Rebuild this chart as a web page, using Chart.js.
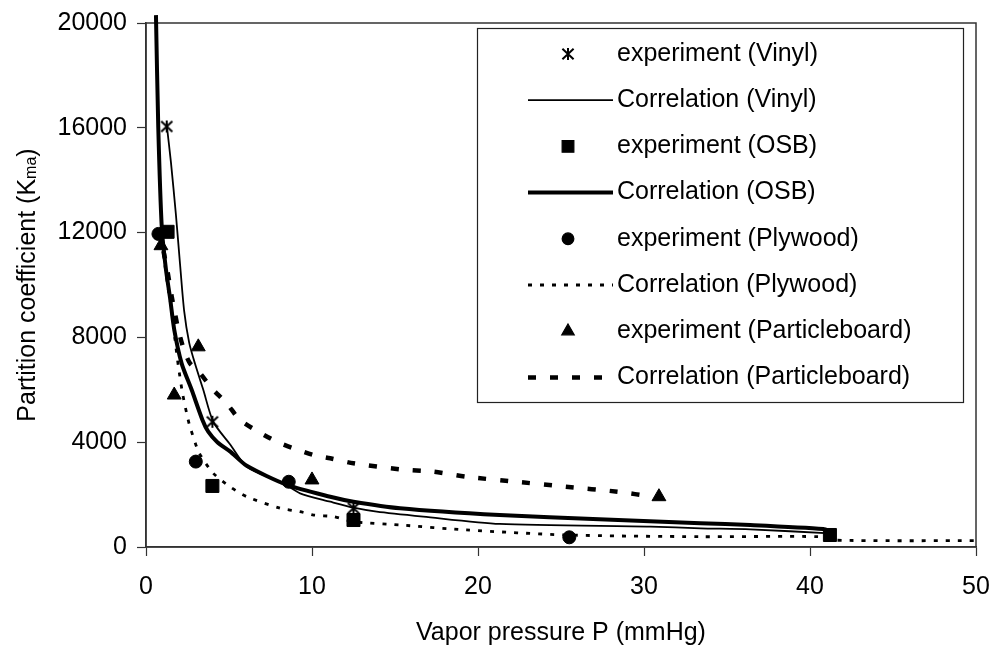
<!DOCTYPE html>
<html><head><meta charset="utf-8">
<script src="https://cdn.jsdelivr.net/npm/chart.js@4/dist/chart.umd.min.js"></script>
<style>html,body{margin:0;padding:0;background:#fff}#wrap{width:996px;height:652px;position:relative}</style>
</head><body><div id="wrap"><canvas id="c" width="996" height="652"></canvas></div>
<script>
// ---- axis ticks ----
const X_TICKS = [0, 10, 20, 30, 40, 50];
const Y_TICKS = [0, 4000, 8000, 12000, 16000, 20000];

// ---- experiments ----
const vinylExpP = [1.25, 4.0, 12.5, 41.2];
const vinylExpK = [16050, 4780, 1480, 480];
const osbExpP = [1.3, 4.0, 12.5, 41.2];
const osbExpK = [12030, 2330, 1030, 458];
const plyExpP = [0.75, 3.0, 8.6, 25.5];
const plyExpK = [11950, 3260, 2490, 370];
const pbExpP = [0.9, 1.7, 3.15, 10.0, 30.9];
const pbExpK = [11500, 5800, 7640, 2560, 1920];

// ---- correlations ----
const vinylCorP = [1.25, 1.5, 1.8, 2.05, 2.3, 2.6, 2.95, 3.45, 4.05, 5.06, 6.07, 8.27, 9.28, 11.1, 12.5, 13.9, 16.7, 21.3, 30.4, 33.4, 36.4, 41.2];
const vinylCorK = [16100, 14700, 12700, 10800, 9000, 7800, 7000, 6000, 4780, 3920, 3065, 2430, 2050, 1730, 1500, 1350, 1160, 880, 776, 714, 675, 520];
const osbCorP = [0.6, 0.74, 0.95, 1.2, 1.45, 1.7, 2.15, 2.75, 3.4, 3.75, 4.3, 5.06, 6.07, 8.5, 11.1, 12.5, 15.3, 21.3, 27.3, 33.4, 36.4, 40.8, 41.3];
const osbCorK = [20300, 16000, 12200, 10600, 9500, 8300, 7000, 6000, 4850, 4400, 4000, 3650, 3100, 2370, 1920, 1730, 1480, 1220, 1056, 905, 840, 690, 590];
const plyCorP = [1.05, 1.3, 1.55, 1.75, 1.95, 2.2, 2.45, 2.65, 3.2, 4.06, 5.06, 6.07, 8.07, 9.28, 10.1, 11.3, 12.5, 15.3, 19.3, 25.4, 33.4, 40.5, 41.5, 50];
const plyCorK = [11200, 10000, 9000, 7900, 6900, 5870, 5100, 4590, 3600, 2810, 2300, 1920, 1480, 1350, 1220, 1160, 965, 840, 650, 458, 393, 393, 260, 240];
const pbCorP = [1.05, 1.3, 1.55, 1.75, 1.95, 2.3, 2.65, 3.25, 3.96, 4.86, 5.66, 6.77, 7.87, 8.87, 10.1, 11.1, 12.5, 15.3, 17.3, 19.3, 22.3, 25.3, 28.4, 30.5];
const pbCorK = [11300, 10500, 9555, 8900, 8280, 7500, 7010, 6640, 6060, 5485, 4850, 4400, 4020, 3770, 3510, 3385, 3195, 2965, 2875, 2680, 2490, 2300, 2110, 1920];

const LABELS = ['experiment (Vinyl)', 'Correlation (Vinyl)', 'experiment (OSB)', 'Correlation (OSB)',
  'experiment (Plywood)', 'Correlation (Plywood)', 'experiment (Particleboard)', 'Correlation (Particleboard)'];

const FONT = "'Liberation Sans', Arial, sans-serif";
const FS = 25;

function pts(P, K) { return P.map((p, i) => ({ x: p, y: K[i] })); }

function makeAsterisk(size) {
  const c = document.createElement('canvas');
  c.width = size; c.height = size;
  const g = c.getContext('2d');
  g.strokeStyle = '#000'; g.lineWidth = 2; g.lineCap = 'butt';
  const m = size / 2, r = size / 2 - 1;
  g.beginPath();
  g.moveTo(m - r * 0.8, m - r * 0.75); g.lineTo(m + r * 0.8, m + r * 0.75);
  g.moveTo(m + r * 0.8, m - r * 0.75); g.lineTo(m - r * 0.8, m + r * 0.75);
  g.moveTo(m, m - r * 0.85); g.lineTo(m, m + r * 0.85);
  g.stroke();
  return c;
}
const ASTER = makeAsterisk(16);

function expSet(label, P, K, style, radius) {
  return { label, data: pts(P, K), showLine: false, pointStyle: style, pointRadius: radius,
    pointHoverRadius: radius, pointBackgroundColor: '#000', pointBorderColor: '#000', pointBorderWidth: 1, order: 0 };
}
function corSet(label, P, K, width, dash, clip) {
  const d = { label, data: pts(P, K), showLine: true, pointRadius: 0, borderColor: '#000', backgroundColor: '#000',
    borderWidth: width, borderDash: dash, fill: false, tension: 0.25, order: 1 };
  if (clip === false) d.clip = false;
  return d;
}

const datasets = [
  expSet(LABELS[0], vinylExpP, vinylExpK, ASTER, 7),
  corSet(LABELS[1], vinylCorP, vinylCorK, 1.8, []),
  expSet(LABELS[2], osbExpP, osbExpK, 'rect', 9.2),
  corSet(LABELS[3], osbCorP, osbCorK, 4, [], false),
  expSet(LABELS[4], plyExpP, plyExpK, 'circle', 6.5),
  corSet(LABELS[5], plyCorP, plyCorK, 2.8, [4, 8]),
  expSet(LABELS[6], pbExpP, pbExpK, 'triangle', 8),
  corSet(LABELS[7], pbCorP, pbCorK, 4.5, [8, 14]),
];

const decor = {
  id: 'decor',
  beforeDatasetsDraw(chart) {
    const { ctx, chartArea: a } = chart;
    ctx.save();
    ctx.strokeStyle = '#333'; ctx.lineWidth = 1.5;
    ctx.strokeRect(a.left, a.top, a.right - a.left, a.bottom - a.top);
    ctx.restore();
  },
  afterDraw(chart) {
    const { ctx, chartArea: a } = chart;
    ctx.save();
    ctx.fillStyle = '#000';
    // x title
    ctx.font = FS + 'px ' + FONT;
    ctx.textAlign = 'center'; ctx.textBaseline = 'middle';
    ctx.fillText('Vapor pressure P (mmHg)', (a.left + a.right) / 2, 633);
    // y title with subscript
    ctx.save();
    ctx.translate(28, (a.top + a.bottom) / 2);
    ctx.rotate(-Math.PI / 2);
    const p1 = 'Partition coefficient (K', sub = 'ma', p2 = ')';
    ctx.font = FS + 'px ' + FONT;
    const w1 = ctx.measureText(p1).width, w3 = ctx.measureText(p2).width;
    ctx.font = '16px ' + FONT;
    const w2 = ctx.measureText(sub).width;
    let x = -(w1 + w2 + w3) / 2;
    ctx.textAlign = 'left'; ctx.textBaseline = 'middle';
    ctx.font = FS + 'px ' + FONT; ctx.fillText(p1, x, 0); x += w1;
    ctx.font = '16px ' + FONT; ctx.fillText(sub, x, 4); x += w2;
    ctx.font = FS + 'px ' + FONT; ctx.fillText(p2, x, 0);
    ctx.restore();
    // legend
    const L = 477.5, T = 28.5, R = 963.5, B = 402.5;
    ctx.fillStyle = '#fff';
    ctx.fillRect(L, T, R - L, B - T);
    ctx.strokeStyle = '#222'; ctx.lineWidth = 1.2;
    ctx.strokeRect(L, T, R - L, B - T);
    chart.data.datasets.forEach((ds, i) => {
      const y = 54 + i * 46.2;
      if (ds.showLine) {
        ctx.save();
        ctx.strokeStyle = '#000'; ctx.lineWidth = ds.borderWidth;
        ctx.setLineDash(ds.borderDash || []);
        ctx.beginPath(); ctx.moveTo(528, y); ctx.lineTo(613, y); ctx.stroke();
        ctx.restore();
      } else {
        ctx.save();
        ctx.fillStyle = '#000'; ctx.strokeStyle = '#000';
        Chart.helpers.drawPoint(ctx, { pointStyle: ds.pointStyle, radius: ds.pointRadius * 0.9, borderWidth: 1, rotation: 0 }, 568, y);
        ctx.restore();
      }
      ctx.fillStyle = '#000';
      ctx.font = FS + 'px ' + FONT;
      ctx.textAlign = 'left'; ctx.textBaseline = 'middle';
      ctx.fillText(ds.label, 617, y);
    });
    ctx.restore();
  }
};

new Chart(document.getElementById('c'), {
  type: 'scatter',
  data: { datasets },
  plugins: [decor],
  options: {
    responsive: false, animation: false, devicePixelRatio: 1,
    layout: { padding: { top: 23, right: 20, left: 0, bottom: 0 } },
    plugins: { legend: { display: false }, tooltip: { enabled: false } },
    scales: {
      x: {
        type: 'linear', min: X_TICKS[0], max: X_TICKS[X_TICKS.length - 1],
        afterBuildTicks: s => { s.ticks = X_TICKS.map(v => ({ value: v })); },
        afterFit: s => { s.height = 105; s.paddingLeft = 0; s.paddingRight = 0; },
        ticks: { color: '#000', font: { family: FONT, size: FS }, padding: 16, maxRotation: 0, callback: v => String(v) },
        grid: { drawOnChartArea: false, drawTicks: true, tickLength: 9, tickColor: '#333', tickWidth: 1.2 },
        border: { display: true, color: '#333', width: 1.5 }
      },
      y: {
        type: 'linear', min: Y_TICKS[0], max: Y_TICKS[Y_TICKS.length - 1],
        afterBuildTicks: s => { s.ticks = Y_TICKS.map(v => ({ value: v })); },
        afterFit: s => { s.width = 146; s.paddingTop = 0; s.paddingBottom = 0; },
        ticks: { color: '#000', font: { family: FONT, size: FS }, padding: 10, callback: v => String(v) },
        grid: { drawOnChartArea: false, drawTicks: true, tickLength: 9, tickColor: '#333', tickWidth: 1.2 },
        border: { display: true, color: '#333', width: 1.5 }
      }
    }
  }
});
</script>
</body></html>
